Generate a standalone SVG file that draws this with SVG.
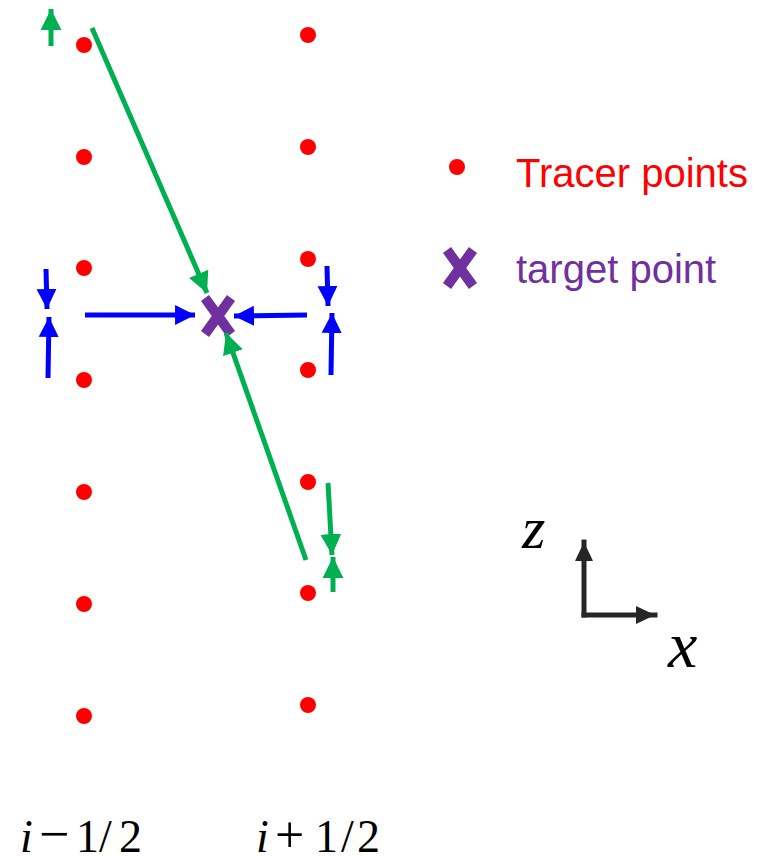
<svg xmlns="http://www.w3.org/2000/svg" width="762" height="856" viewBox="0 0 762 856">
<style>
.dot{fill:#FF0000}
.g{stroke:#00B050;stroke-width:5;fill:none}
.b{stroke:#0000FF;stroke-width:5;fill:none}
.k{stroke:#262626;stroke-width:5;fill:none;stroke-linecap:square}
.tx{stroke:#7030A0;stroke-width:10}
.math{font-family:"Liberation Serif",serif;font-style:italic}
.lab{font-family:"Liberation Sans",Arial,sans-serif;font-size:40px}
</style>
<defs>
<marker id="ag" markerUnits="userSpaceOnUse" markerWidth="22" markerHeight="22" viewBox="0 0 20 20" refX="19" refY="10" orient="auto"><path d="M0,0.5 L19,10 L0,19.5 Z" fill="#00B050"/></marker>
<marker id="ab" markerUnits="userSpaceOnUse" markerWidth="21" markerHeight="21" viewBox="0 0 20 20" refX="19" refY="10" orient="auto"><path d="M0,0.5 L19,10 L0,19.5 Z" fill="#0000FF"/></marker>
<marker id="ak" markerUnits="userSpaceOnUse" markerWidth="20" markerHeight="20" viewBox="0 0 20 20" refX="19" refY="10" orient="auto"><path d="M0,1 L19,10 L0,19 Z" fill="#262626"/></marker>
</defs>
<g id="tracers-left">
<circle class="dot" cx="84" cy="45" r="8"/>
<circle class="dot" cx="84" cy="157" r="8"/>
<circle class="dot" cx="84" cy="268" r="8"/>
<circle class="dot" cx="84" cy="380" r="8"/>
<circle class="dot" cx="84" cy="492" r="8"/>
<circle class="dot" cx="84" cy="604" r="8"/>
<circle class="dot" cx="84" cy="716" r="8"/>
</g>
<g id="tracers-right">
<circle class="dot" cx="308" cy="35" r="8"/>
<circle class="dot" cx="308" cy="147" r="8"/>
<circle class="dot" cx="308" cy="259" r="8"/>
<circle class="dot" cx="308" cy="370" r="8"/>
<circle class="dot" cx="308" cy="482" r="8"/>
<circle class="dot" cx="308" cy="593" r="8"/>
<circle class="dot" cx="308" cy="705" r="8"/>
</g>
<g id="target">
<line class="tx" x1="205" y1="298" x2="231" y2="334"/>
<line class="tx" x1="231" y1="298" x2="205" y2="334"/>
</g>
<g id="connectors">
<line class="g" x1="92" y1="28" x2="207" y2="293" marker-end="url(#ag)"/>
<line class="g" x1="306" y1="560" x2="226" y2="333" marker-end="url(#ag)"/>
<line class="g" x1="51" y1="46" x2="51" y2="9" marker-end="url(#ag)"/>
<line class="g" x1="328" y1="483" x2="332" y2="555" marker-end="url(#ag)"/>
<line class="g" x1="333" y1="592" x2="333" y2="557" marker-end="url(#ag)"/>
<line class="b" x1="85" y1="315" x2="195" y2="315" marker-end="url(#ab)"/>
<line class="b" x1="307" y1="315" x2="234" y2="316" marker-end="url(#ab)"/>
<line class="b" x1="46" y1="269" x2="47" y2="309" marker-end="url(#ab)"/>
<line class="b" x1="48" y1="378" x2="49" y2="317" marker-end="url(#ab)"/>
<line class="b" x1="327" y1="266" x2="328" y2="306" marker-end="url(#ab)"/>
<line class="b" x1="331" y1="375" x2="332" y2="313" marker-end="url(#ab)"/>
</g>
<g id="axes">
<line class="k" x1="584" y1="615" x2="584" y2="542" marker-end="url(#ak)"/>
<line class="k" x1="584" y1="615" x2="655" y2="615" marker-end="url(#ak)"/>
<text class="math" x="522" y="548" font-size="60">z</text>
<text class="math" x="668" y="667" font-size="66">x</text>
</g>
<g id="legend">
<circle class="dot" cx="457" cy="167" r="8"/>
<text class="lab" x="516" y="187" fill="#FF0000">Tracer points</text>
<line class="tx" x1="447" y1="250" x2="473" y2="286"/>
<line class="tx" x1="473" y1="250" x2="447" y2="286"/>
<text class="lab" x="516" y="283" fill="#7030A0">target point</text>
</g>
<g id="labels" font-family="Liberation Serif,serif" font-size="46">
<text y="852"><tspan x="20" font-style="italic">i</tspan><tspan x="39" font-size="54">−</tspan><tspan x="76">1</tspan><tspan x="99">/</tspan><tspan x="119">2</tspan></text>
<text y="852"><tspan x="256" font-style="italic">i</tspan><tspan x="275" font-size="52">+</tspan><tspan x="315">1</tspan><tspan x="341">/</tspan><tspan x="357">2</tspan></text>
</g>
</svg>
